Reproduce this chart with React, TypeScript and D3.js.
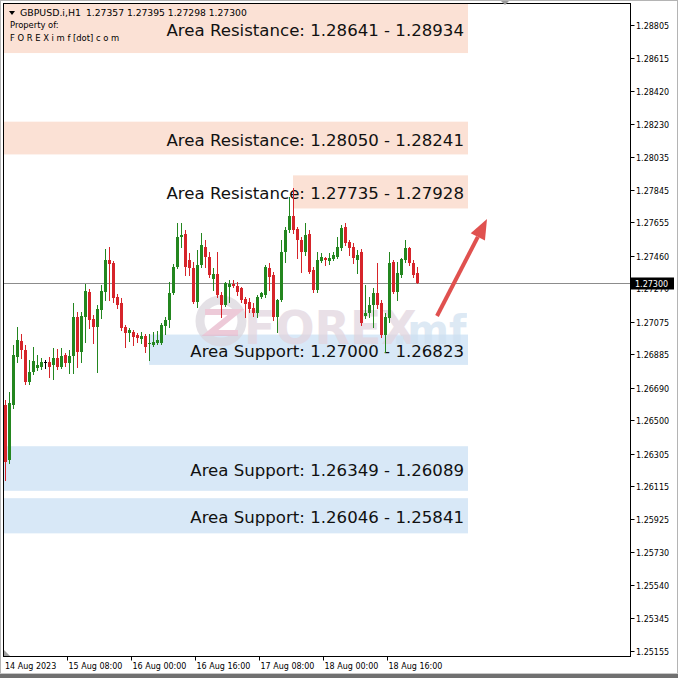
import React from "react";
import * as d3 from "d3";

// ---------- data ----------
const OPEN = [1.26589,1.26268,1.26589,1.26869,1.26962,1.26909,1.26723,1.26781,1.26804,1.26810,1.26839,1.26839,1.26822,1.26863,1.26810,1.26880,1.26834,1.26874,1.27102,1.26898,1.27102,1.27248,1.27090,1.27043,1.27143,1.27248,1.27434,1.27417,1.27218,1.27183,1.27043,1.27009,1.27014,1.26997,1.26974,1.26991,1.26944,1.26939,1.26950,1.26950,1.27050,1.27085,1.27242,1.27393,1.27568,1.27586,1.27434,1.27388,1.27189,1.27405,1.27510,1.27452,1.27323,1.27353,1.27230,1.27172,1.27277,1.27294,1.27283,1.27271,1.27207,1.27189,1.27154,1.27125,1.27218,1.27230,1.27388,1.27347,1.27102,1.27201,1.27481,1.27609,1.27691,1.27615,1.27551,1.27481,1.27586,1.27376,1.27259,1.27428,1.27446,1.27428,1.27440,1.27452,1.27504,1.27627,1.27539,1.27510,1.27434,1.27481,1.27108,1.27125,1.27172,1.27242,1.27183,1.26997,1.27096,1.27422,1.27248,1.27347,1.27434,1.27504,1.27417,1.27357];
const HIGH = [1.26618,1.26665,1.26939,1.27043,1.27003,1.26939,1.26851,1.26927,1.26880,1.26863,1.26851,1.26869,1.26921,1.26915,1.26921,1.26892,1.26909,1.27183,1.27131,1.27131,1.27294,1.27265,1.27113,1.27172,1.27288,1.27498,1.27510,1.27428,1.27236,1.27213,1.27055,1.27038,1.27026,1.27009,1.27014,1.27003,1.27003,1.27014,1.27020,1.27067,1.27102,1.27306,1.27411,1.27650,1.27650,1.27609,1.27475,1.27422,1.27492,1.27592,1.27551,1.27481,1.27388,1.27481,1.27248,1.27306,1.27317,1.27317,1.27306,1.27277,1.27218,1.27213,1.27183,1.27230,1.27248,1.27405,1.27417,1.27364,1.27207,1.27551,1.27627,1.27801,1.27854,1.27627,1.27568,1.27650,1.27609,1.27393,1.27481,1.27475,1.27452,1.27475,1.27481,1.27568,1.27638,1.27650,1.27551,1.27533,1.27492,1.27498,1.27288,1.27218,1.27271,1.27417,1.27201,1.27125,1.27481,1.27434,1.27422,1.27446,1.27551,1.27510,1.27434,1.27395];
const LOW = [1.26152,1.26251,1.26571,1.26839,1.26863,1.26711,1.26711,1.26769,1.26793,1.26799,1.26804,1.26752,1.26740,1.26799,1.26804,1.26816,1.26775,1.26775,1.26810,1.26839,1.26956,1.27038,1.26950,1.26781,1.27096,1.27201,1.27201,1.27189,1.27154,1.27026,1.26927,1.26962,1.26939,1.26956,1.26950,1.26898,1.26851,1.26933,1.26944,1.26944,1.27003,1.27043,1.27236,1.27388,1.27510,1.27347,1.27347,1.27183,1.27160,1.27393,1.27393,1.27335,1.27259,1.27218,1.27102,1.27166,1.27189,1.27277,1.27230,1.27189,1.27102,1.27131,1.27108,1.27102,1.27213,1.27218,1.27259,1.27084,1.27014,1.27195,1.27422,1.27597,1.27592,1.27446,1.27364,1.27463,1.27358,1.27248,1.27248,1.27422,1.27405,1.27411,1.27434,1.27446,1.27492,1.27522,1.27463,1.27417,1.27358,1.27055,1.27096,1.27102,1.27043,1.27154,1.26985,1.26898,1.27073,1.27242,1.27201,1.27335,1.27422,1.27405,1.27335,1.27298];
const CLOSE = [1.26256,1.26600,1.26880,1.26968,1.26909,1.26723,1.26781,1.26845,1.26822,1.26839,1.26839,1.26810,1.26863,1.26810,1.26874,1.26834,1.26874,1.27102,1.26898,1.27108,1.27253,1.27084,1.27043,1.27148,1.27253,1.27434,1.27411,1.27213,1.27172,1.27038,1.27009,1.27026,1.26985,1.26979,1.26991,1.26927,1.26950,1.26956,1.26968,1.27055,1.27085,1.27242,1.27393,1.27568,1.27580,1.27393,1.27388,1.27189,1.27405,1.27522,1.27452,1.27347,1.27353,1.27230,1.27172,1.27300,1.27294,1.27283,1.27248,1.27201,1.27178,1.27148,1.27125,1.27218,1.27242,1.27393,1.27335,1.27102,1.27201,1.27481,1.27609,1.27691,1.27609,1.27551,1.27481,1.27580,1.27364,1.27259,1.27434,1.27452,1.27434,1.27446,1.27463,1.27510,1.27621,1.27533,1.27504,1.27446,1.27463,1.27067,1.27125,1.27172,1.27242,1.27172,1.26997,1.27102,1.27417,1.27248,1.27358,1.27440,1.27504,1.27417,1.27347,1.27300];

const FIRST_BAR_TIME = new Date(2023, 7, 14, 16, 0);
const TIME_TICK_BARS = [0, 16, 32, 48, 64, 80, 96];

const PRICE_TICKS = [1.28805,1.28615,1.28420,1.28230,1.28035,1.27845,1.27655,1.27460,1.27270,1.27075,1.26885,1.26690,1.26500,1.26305,1.26115,1.25925,1.25730,1.25540,1.25345,1.25155];

const ZONE_LABELS = [
  "Area Resistance: 1.28641 - 1.28934",
  "Area Resistance: 1.28050 - 1.28241",
  "Area Resistance: 1.27735 - 1.27928",
  "Area Support: 1.27000 - 1.26823",
  "Area Support: 1.26349 - 1.26089",
  "Area Support: 1.26046 - 1.25841",
];
const ZONE_LOW = [1.28641, 1.28050, 1.27735, 1.26823, 1.26089, 1.25841];
const ZONE_HIGH = [1.28934, 1.28241, 1.27928, 1.27000, 1.26349, 1.26046];
const ZONE_START_BAR = [-0.25, -0.25, 72, 36, -0.25, -0.25];
const ZONE_END_BAR = 115.75;
const ZONE_IS_RESISTANCE = [true, true, true, false, false, false];

const SYMBOL = "GBPUSD.i,H1";
const ARROW_FROM = { bar: 108, price: 1.27108 };
const ARROW_TO = { bar: 120.5, price: 1.27673 };

// ---------- layout ----------
const W = 678, H = 678;
const PL = 3.5, PR = 630.5, PT = 3.5, PB = 656.5;
const FONT = "'DejaVu Sans', Verdana, sans-serif";
const GREEN = "#23861f";
const RED = "#d6242a";

export default function App() {
  const x = d3.scaleLinear().domain([-0.25, 156.25]).range([4, 630]);
  const y = d3.scaleLinear().domain([1.25126, 1.28927]).range([656, 4]);
  const fmtFirst = d3.timeFormat("%-d %b %Y");
  const fmt = d3.timeFormat("%-d %b %H:%M");
  const last = CLOSE[CLOSE.length - 1];
  const lastY = Math.round(y(last)) + 0.5;

  const ax = x(ARROW_FROM.bar), ay = y(ARROW_FROM.price);
  const bx = x(ARROW_TO.bar), by = y(ARROW_TO.price);
  const ang = Math.atan2(by - ay, bx - ax);
  const headLen = 20, headW = 8;
  const hx = bx - headLen * Math.cos(ang), hy = by - headLen * Math.sin(ang);
  const px = -Math.sin(ang), py = Math.cos(ang);

  return (
    <svg width={W} height={H} style={{ position: "absolute", left: 0, top: 0, background: "#fff" }} fontFamily={FONT}>
      <defs>
        <clipPath id="plot">
          <rect x={PL} y={PT} width={PR - PL} height={PB - PT} />
        </clipPath>
      </defs>
      <rect x={0} y={0} width={W} height={H} fill="#fff" />
      <g clipPath="url(#plot)">
        {ZONE_LABELS.map((_, i) => (
          <rect key={"z" + i}
            x={x(ZONE_START_BAR[i])} y={y(ZONE_HIGH[i])}
            width={x(ZONE_END_BAR) - x(ZONE_START_BAR[i])}
            height={y(ZONE_LOW[i]) - y(ZONE_HIGH[i])}
            fill={ZONE_IS_RESISTANCE[i] ? "#fbe1d5" : "#d8e8f7"} />
        ))}
        {/* watermark */}
        <g opacity={0.7}>
          <circle cx={221} cy={321} r={21} fill="none" stroke="#d9d5dc" strokeWidth={9} />
          <path d="M205 312 L236 312 L210 333 L238 333" fill="none" stroke="#e6b5c8" strokeWidth={6} />
          <text x={244} y={344} fontSize={46} fontWeight="bold" fill="#e1d3dd" fontFamily="'DejaVu Sans', sans-serif">FOREX</text>
          <text x={392} y={344} fontSize={40} fontWeight="bold" fill="#cfe0f0" fontFamily="'DejaVu Sans', sans-serif">.mf</text>
        </g>
        <line x1={PL} x2={PR} y1={lastY} y2={lastY} stroke="#8c8c8c" strokeWidth={1} />
        {ZONE_LABELS.map((t, i) => (
          <text key={"t" + i} x={x(ZONE_END_BAR) - 4}
            y={(Math.max(y(ZONE_HIGH[i]), PT) + y(ZONE_LOW[i])) / 2 + 7.5}
            textAnchor="end" fontSize={16.6} fill="#111">{t}</text>
        ))}
        {OPEN.map((o, i) => {
          const c = CLOSE[i];
          const col = c > o ? GREEN : c < o ? RED : "#000";
          const cx = Math.round(x(i));
          const top = Math.round(y(Math.max(o, c)));
          const bot = Math.round(y(Math.min(o, c)));
          return (
            <g key={"c" + i}>
              <line x1={cx + 0.5} x2={cx + 0.5} y1={Math.round(y(HIGH[i]))} y2={Math.round(y(LOW[i])) + 1} stroke={col} strokeWidth={1} />
              <rect x={cx - 1} y={top} width={3} height={Math.max(1, bot - top)} fill={col} />
            </g>
          );
        })}
        {/* arrow */}
        <line x1={ax} y1={ay} x2={hx} y2={hy} stroke="#e0514f" strokeWidth={4} />
        <polygon points={`${bx},${by} ${hx + px * headW},${hy + py * headW} ${hx - px * headW},${hy - py * headW}`} fill="#e0514f" />
      </g>

      {/* header */}
      <path d="M9 11 L15 11 L12 15 Z" fill="#000" />
      <text x={20} y={16} fontSize={9.4} fill="#000">{SYMBOL}</text>
      <text x={86} y={16} fontSize={9.2} fill="#000">
        {[OPEN[OPEN.length - 1], HIGH[HIGH.length - 1], LOW[LOW.length - 1], last].map(v => v.toFixed(5)).join(" ")}
      </text>
      <text x={10} y={28} fontSize={8.4} fill="#000">Property of:</text>
      <text x={10} y={41} fontSize={8.4} fill="#000">F O R E X i m f [dot] c o m</text>

      {/* frame */}
      <rect x={PL} y={PT} width={PR - PL} height={PB - PT} fill="none" stroke="#000" strokeWidth={1} />

      {/* price axis */}
      {PRICE_TICKS.map(v => {
        const ty = Math.round(y(v)) + 0.5;
        return (
          <g key={"p" + v}>
            <line x1={PR} x2={PR + 4} y1={ty} y2={ty} stroke="#000" />
            <text x={636} y={ty + 3} fontSize={8} fill="#000">{v.toFixed(5)}</text>
          </g>
        );
      })}
      <rect x={631} y={lastY - 6} width={43} height={12} fill="#000" />
      <text x={635} y={lastY + 3} fontSize={8} fill="#fff">{last.toFixed(5)}</text>

      {/* time axis */}
      {TIME_TICK_BARS.map((b, k) => {
        const tx = Math.round(x(b)) - 1.5;
        const t = d3.timeHour.offset(FIRST_BAR_TIME, b);
        return (
          <g key={"x" + b}>
            {k > 0 && <line x1={tx} x2={tx} y1={PB} y2={PB + 4} stroke="#000" />}
            <text x={k === 0 ? 5 : tx + 1} y={669} fontSize={8} fill="#000">{k === 0 ? fmtFirst(t) : fmt(t)}</text>
          </g>
        );
      })}

      {/* markers */}
      <path d="M500 0 L510 0 L505 5 Z" fill="#9a9a9a" />
      <path d="M4 650 L4 656 L10 656 Z" fill="#a0a0a0" />
      {/* window edges */}
      <rect x={0.5} y={0.5} width={W - 1} height={H - 1} fill="none" stroke="#b4b4b4" />
      <rect x={0} y={674} width={W} height={4} fill="#707070" />
      <line x1={0} x2={W} y1={673.5} y2={673.5} stroke="#c8c8c8" />
    </svg>
  );
}
